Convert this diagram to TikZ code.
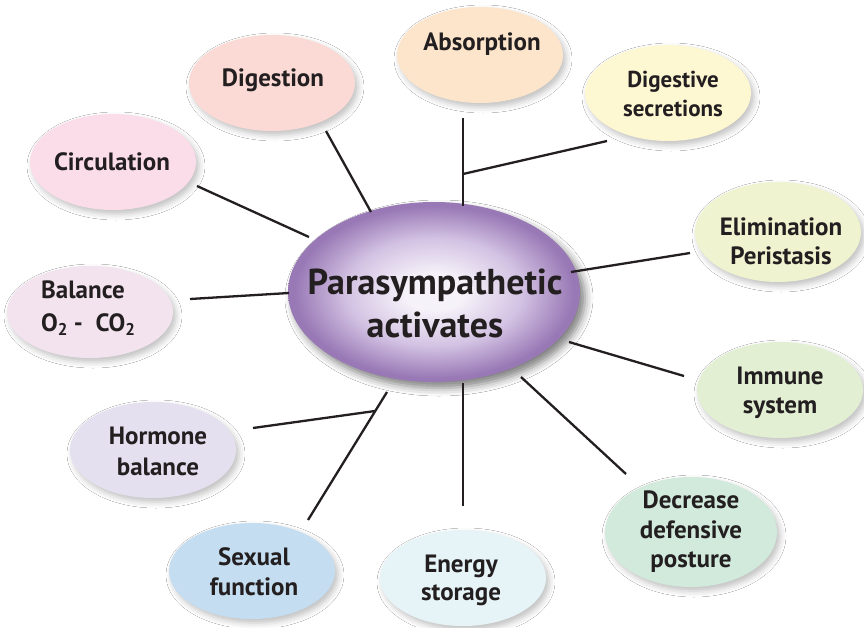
\documentclass[tikz,border=0pt]{standalone}
\usepackage{fontspec}
\setmainfont{PT Sans}
\usetikzlibrary{shapes.geometric,shadows.blur}
\definecolor{ink}{HTML}{231F20}
\definecolor{pcA}{HTML}{F6F2F9}
\definecolor{pcB}{HTML}{D3C2E3}
\definecolor{pcC}{HTML}{9878B5}
\definecolor{cAbs}{HTML}{FDE5CB}
\definecolor{cDig}{HTML}{FBDAD5}
\definecolor{cSec}{HTML}{FDF7D2}
\definecolor{cCir}{HTML}{FBDDE9}
\definecolor{cEli}{HTML}{EFF3CF}
\definecolor{cBal}{HTML}{F3E3EE}
\definecolor{cImm}{HTML}{E2EFD3}
\definecolor{cHor}{HTML}{E4E0EF}
\definecolor{cDec}{HTML}{D1EADC}
\definecolor{cSex}{HTML}{C4DDF1}
\definecolor{cEne}{HTML}{E6F4F7}
\pgfdeclareradialshading{purpball}{\pgfpoint{0bp}{0bp}}{color(0bp)=(pcA); color(5bp)=(pcA); color(15bp)=(pcB); color(24bp)=(pcC); color(50bp)=(pcC)}
\newcommand\lowtwo{\raisebox{-0.18em}{\fontsize{17}{17}\selectfont 2}}
\tikzset{
  sat/.style={ellipse, draw=none, inner sep=0pt, minimum width=166pt, minimum height=96pt,
    blur shadow={shadow xshift=3pt, shadow yshift=-4pt, shadow blur radius=6pt, shadow opacity=25}},
  lbl/.style={font=\fontsize{25}{28}\selectfont\bfseries, text=ink, inner sep=0pt, anchor=base},
  small/.style={font=\fontsize{23}{26}\selectfont\bfseries},
  big/.style={font=\fontsize{36}{40}\selectfont\bfseries, text=ink, inner sep=0pt, anchor=base},
  conn/.style={draw=ink, line width=2.3pt}
}
\begin{document}
\begin{tikzpicture}[x=1pt,y=-1pt]
\useasboundingbox (0,0) rectangle (864,627);
\fill[white] (0,0) rectangle (864,627);
% satellites
\node[sat, fill=cAbs] (abs) at (480,55) {};
\node[sat, fill=cDig] (dig) at (272,83) {};
\node[sat, fill=cSec] (sec) at (668,93) {};
\node[sat, fill=cCir] (cir) at (113,162) {};
\node[sat, fill=cEli, minimum height=100pt] (eli) at (778,232) {};
\node[sat, fill=cBal, minimum height=92pt] (bal) at (90,312) {};
\node[sat, fill=cImm] (imm) at (780,390) {};
\node[sat, fill=cHor] (hor) at (153,450) {};
\node[sat, fill=cDec, minimum width=172pt, minimum height=110pt] (dec) at (691,532) {};
\node[sat, fill=cSex] (sex) at (252,571) {};
\node[sat, fill=cEne] (ene) at (463,578) {};
% core
\node[ellipse, draw=none, inner sep=0pt, minimum width=292pt, minimum height=180pt, shade, shading=purpball,
  blur shadow={shadow xshift=5pt, shadow yshift=-6pt, shadow blur radius=8pt, shadow opacity=50}] (core) at (434,292) {};
% labels
\node[big] (coreA) at (435,294) {Parasympathetic};
\node[big] (coreB) at (435,337) {activates};
\node[lbl] (absT) at (482,50) {Absorption};
\node[lbl] (digT) at (273,86) {Digestion};
\node[lbl, small] (secA) at (673,87) {Digestive};
\node[lbl, small] (secB) at (673,116) {secretions};
\node[lbl] (cirT) at (112,170) {Circulation};
\node[lbl] (eliA) at (781,235) {Elimination};
\node[lbl] (eliB) at (781,264) {Peristasis};
\node[lbl, anchor=base west] (balA) at (41,298) {Balance};
\node[lbl, anchor=base west] (balB) at (41,331) {O\lowtwo\ -\ \ CO\lowtwo};
\node[lbl] (immA) at (780,384) {Immune};
\node[lbl] (immB) at (780,413) {system};
\node[lbl] (horA) at (158,444) {Hormone};
\node[lbl] (horB) at (158,475) {balance};
\node[lbl] (decA) at (691,508) {Decrease};
\node[lbl] (decB) at (691,538) {defensive};
\node[lbl] (decC) at (691,567) {posture};
\node[lbl] (sexA) at (254,565) {Sexual};
\node[lbl] (sexB) at (254,595) {function};
\node[lbl] (eneA) at (461,572) {Energy};
\node[lbl] (eneB) at (461,600) {storage};
% connector end points
\coordinate (absP) at (463,118);
\coordinate (absQ) at (463,206);
\coordinate (secJ) at (463,174);
\coordinate (secP) at (607,141);
\coordinate (digP) at (326,131);
\coordinate (digQ) at (371,212);
\coordinate (cirP) at (197,186);
\coordinate (cirQ) at (309,237);
\coordinate (eliP) at (690,253);
\coordinate (eliQ) at (571,272);
\coordinate (balP) at (190,299);
\coordinate (balQ) at (289,293);
\coordinate (immP) at (684,376);
\coordinate (immQ) at (569,342);
\coordinate (decP) at (626,474);
\coordinate (decQ) at (521,377);
\coordinate (eneP) at (463,506);
\coordinate (eneQ) at (463,383);
\coordinate (sexP) at (308,520);
\coordinate (sexQ) at (387,392);
\coordinate (horP) at (253,428);
\coordinate (horJ) at (375,411);
% connectors
\draw[conn] (absP) -- (absQ);
\draw[conn] (secJ) -- (secP);
\draw[conn] (digP) -- (digQ);
\draw[conn] (cirP) -- (cirQ);
\draw[conn] (eliP) -- (eliQ);
\draw[conn] (balP) -- (balQ);
\draw[conn] (immP) -- (immQ);
\draw[conn] (decP) -- (decQ);
\draw[conn] (eneP) -- (eneQ);
\draw[conn] (sexP) -- (sexQ);
\draw[conn] (horP) -- (horJ);
\end{tikzpicture}
\end{document}
